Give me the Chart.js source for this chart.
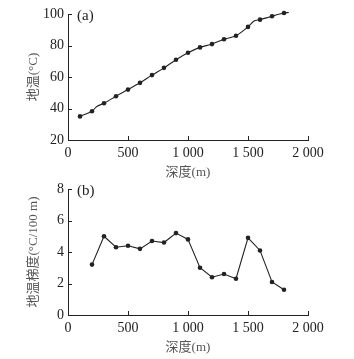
<!DOCTYPE html>
<html>
<head>
<meta charset="utf-8">
<script src="https://cdn.jsdelivr.net/npm/chart.js@4"></script>
<style>
  body { margin: 0; background: #fff; }
  .wrap { position: absolute; left: 0; width: 354px; height: 180px; }
</style>
</head>
<body>
<div class="wrap" style="top:0"><canvas id="tempChart" width="354" height="180"></canvas></div>
<div class="wrap" style="top:175px"><canvas id="gradChart" width="354" height="180"></canvas></div>
<script>
// ===== Data =====
const depthTicks = [0, 500, 1000, 1500, 2000];
const depthTickLabels = ["0", "500", "1 000", "1 500", "2 000"];

// (a) temperature log, markers every 100 m
const depthA = [100, 200, 240, 300, 400, 500, 600, 700, 800, 900, 1000, 1100, 1200, 1300, 1400, 1500, 1550, 1600, 1700, 1800, 1840];
const tempA = [35.0, 38.3, 41.3, 43.3, 47.8, 52.0, 56.3, 61.2, 65.8, 71.0, 75.4, 78.8, 80.9, 84.0, 86.2, 91.8, 95.5, 96.4, 98.6, 100.6, 101.0];

// (b) geothermal gradient
const depthB = [200, 300, 400, 500, 600, 700, 800, 900, 1000, 1100, 1200, 1300, 1400, 1500, 1600, 1700, 1800];
const gradB = [3.2, 5.0, 4.3, 4.4, 4.2, 4.7, 4.6, 5.2, 4.8, 3.0, 2.4, 2.6, 2.3, 4.9, 4.1, 2.1, 1.6];

const FONT = "'Liberation Serif', 'Noto Sans CJK SC', serif";
const INK = "#222";

// ===== Inward ticks + panel label =====
const innerTicks = {
  id: "innerTicks",
  afterDraw(chart, args, opts) {
    const { ctx, chartArea: a, scales: { x, y } } = chart;
    ctx.save();
    ctx.strokeStyle = INK;
    ctx.lineWidth = 1;
    ctx.beginPath();
    x.ticks.forEach(t => {
      const px = Math.round(x.getPixelForValue(t.value)) + 0.5;
      ctx.moveTo(px, a.bottom);
      ctx.lineTo(px, a.bottom - 4);
    });
    y.ticks.forEach(t => {
      const py = Math.round(y.getPixelForValue(t.value)) + 0.5;
      ctx.moveTo(a.left, py);
      ctx.lineTo(a.left + 4, py);
    });
    ctx.stroke();
    ctx.fillStyle = INK;
    ctx.font = "15px " + FONT;
    ctx.textBaseline = "middle";
    ctx.fillText(opts.label, a.left + 9, a.top + 2);
    ctx.restore();
  }
};

function makeChart(id, xs, ys, yMin, yMax, yStep, yTitle, panel, markerTest, tension) {
  new Chart(document.getElementById(id), {
    type: "line",
    data: {
      datasets: [{
        data: xs.map((d, i) => ({ x: d, y: ys[i] })),
        borderColor: INK,
        borderWidth: 1.1,
        backgroundColor: INK,
        pointRadius: ctx => markerTest(xs[ctx.dataIndex]) ? 2.3 : 0,
        pointBorderWidth: 0,
        tension: tension,
        clip: false
      }]
    },
    options: {
      responsive: false,
      animation: false,
      events: [],
      layout: { padding: { top: 14, right: 46, left: 0, bottom: 0 } },
      plugins: {
        legend: { display: false },
        tooltip: { enabled: false },
        innerTicks: { label: panel }
      },
      scales: {
        x: {
          type: "linear",
          min: 0, max: 2000,
          afterBuildTicks: s => { s.ticks = depthTicks.map(v => ({ value: v })); },
          afterFit: s => { s.height = 40; },
          grid: { drawOnChartArea: false, drawTicks: false },
          border: { color: INK, width: 1 },
          ticks: {
            padding: 5,
            color: INK,
            font: { family: FONT, size: 14 },
            callback: v => depthTickLabels[depthTicks.indexOf(v)]
          },
          title: {
            display: true,
            text: "深度(m)",
            color: "#555",
            font: { family: FONT, size: 13 },
            padding: { top: 0, bottom: 0 }
          }
        },
        y: {
          min: yMin, max: yMax,
          afterFit: s => { s.width = 68; },
          grid: { drawOnChartArea: false, drawTicks: false },
          border: { color: INK, width: 1 },
          ticks: {
            stepSize: yStep,
            padding: 4,
            color: INK,
            font: { family: FONT, size: 14 }
          },
          title: {
            display: true,
            text: yTitle,
            color: "#555",
            font: { family: FONT, size: 13 },
            padding: { top: 26, bottom: 0 }
          }
        }
      }
    },
    plugins: [innerTicks]
  });
}

window.addEventListener("load", () => {
  makeChart("tempChart", depthA, tempA, 20, 100, 20, "地温(°C)", "(a)", d => d % 100 === 0, 0.3);
  makeChart("gradChart", depthB, gradB, 0, 8, 2, "地温梯度(°C/100 m)", "(b)", () => true, 0);
});
</script>
</body>
</html>
